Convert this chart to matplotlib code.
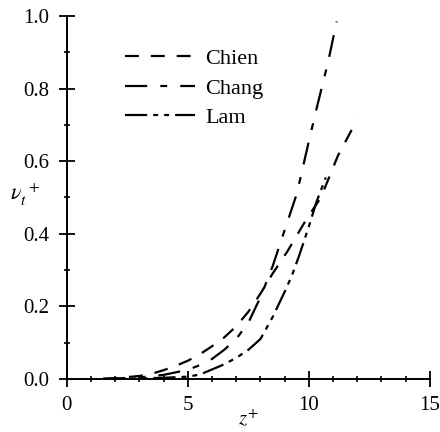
import numpy as np
import matplotlib
matplotlib.use("Agg")
import matplotlib.pyplot as plt
from matplotlib.ticker import MultipleLocator, FormatStrFormatter

# eddy viscosity profiles near the wall, three low-Re models
chien_z = [1.5, 2.0, 3.0, 3.5, 4.0, 4.5, 5.0, 5.5, 6.0, 6.5, 7.0, 7.5, 8.0, 8.5, 9.1, 9.9, 10.5, 11.2, 12.0]
chien_nu = [0.0, 0.002, 0.008, 0.014, 0.024, 0.036, 0.05, 0.068, 0.09, 0.114, 0.145, 0.185, 0.235, 0.29, 0.35, 0.44, 0.5, 0.615, 0.715]

chang_z = [1.5, 2.0, 3.0, 4.0, 5.0, 5.5, 6.0, 6.5, 7.0, 7.5, 8.0, 8.5, 8.8, 9.2, 9.5, 10.0, 10.3, 10.8, 11.15]
chang_nu = [0.0, 0.001, 0.004, 0.011, 0.025, 0.038, 0.055, 0.08, 0.11, 0.155, 0.225, 0.31, 0.37, 0.45, 0.51, 0.655, 0.74, 0.875, 0.985]

lam_z = [1.5, 3.0, 4.0, 5.0, 5.5, 6.0, 6.5, 7.0, 7.5, 8.0, 8.5, 9.0, 9.3, 9.6, 10.0, 10.3, 10.7]
lam_nu = [0.0, 0.001, 0.003, 0.006, 0.012, 0.026, 0.04, 0.058, 0.08, 0.11, 0.17, 0.24, 0.285, 0.34, 0.42, 0.485, 0.555]

plt.rcParams["font.family"] = "Liberation Serif"
plt.rcParams["mathtext.fontset"] = "stix"
plt.rcParams["lines.scale_dashes"] = False

fig = plt.figure(figsize=(4.4, 4.32), dpi=100)
ax = fig.add_axes([0.152, 0.123, 0.825, 0.840])

lw = 1.6
ax.plot(chien_z, chien_nu, color="black", lw=lw, linestyle=(0, (10, 8.6)), label="Chien")
ax.plot(chang_z, chang_nu, color="black", lw=lw, linestyle=(0, (16, 9.4, 5, 9.4)), label="Chang")
ax.plot(lam_z, lam_nu, color="black", lw=lw, linestyle=(0, (16, 4.3, 3.6, 4.3, 3.6, 4.3)), label="Lam")
for ln in ax.lines:
    ln.set_clip_on(False)

ax.set_xlim(0, 15)
ax.set_ylim(0, 1.0)
ax.spines["top"].set_visible(False)
ax.spines["right"].set_visible(False)
for s in ("left", "bottom"):
    ax.spines[s].set_linewidth(1.4)

ax.xaxis.set_major_locator(MultipleLocator(5))
ax.xaxis.set_minor_locator(MultipleLocator(1))
ax.yaxis.set_major_locator(MultipleLocator(0.2))
ax.yaxis.set_minor_locator(MultipleLocator(0.1))
ax.yaxis.set_major_formatter(FormatStrFormatter("%.1f"))
ax.tick_params(which="major", direction="inout", length=11, width=1.3, labelsize=15, pad=7)
ax.tick_params(which="minor", direction="inout", length=5, width=1.2)

ax.set_xlabel(r"$z^{+}$", fontsize=15, labelpad=-4)
ax.set_ylabel(r"$\nu_t^{\ +}$", fontsize=16, rotation=0)
ax.yaxis.set_label_coords(-0.115, 0.47)

ax.legend(loc="upper left", bbox_to_anchor=(0.16, 0.91), frameon=False,
          fontsize=16, handlelength=3.15, handletextpad=0.45, labelspacing=0.4,
          borderpad=0, borderaxespad=0)

fig.savefig("out.png", dpi=100)
